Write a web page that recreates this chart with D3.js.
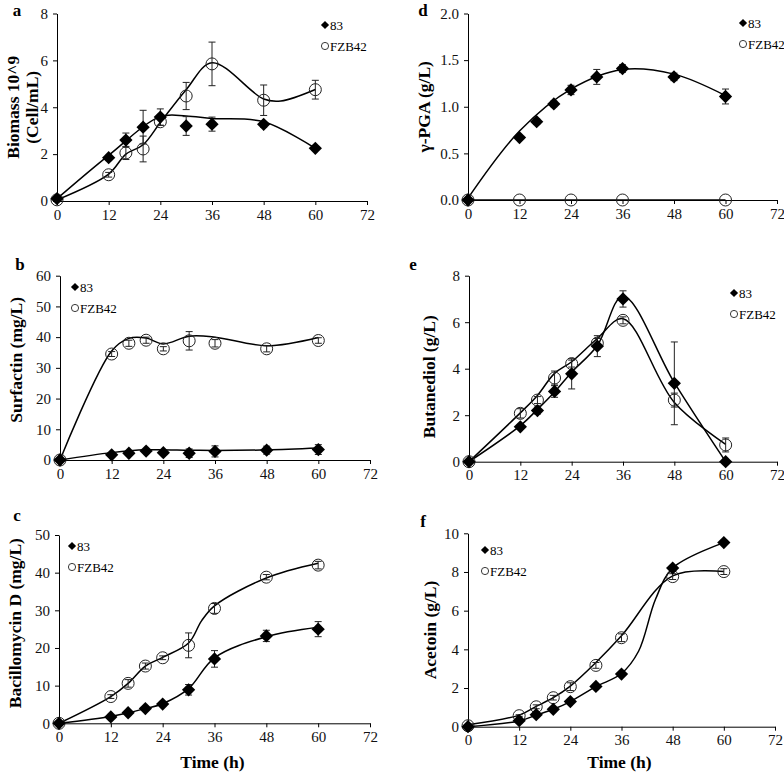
<!DOCTYPE html>
<html><head><meta charset="utf-8">
<script src="https://cdn.jsdelivr.net/npm/d3@7"></script>
<style>body{margin:0;background:#fff}svg{display:block}text{font-family:"Liberation Serif","Times New Roman",serif}</style>
</head><body>
<svg id="c" width="784" height="772"></svg>
<script>
// ---------------- data ----------------
const timeH = [0, 12, 16, 20, 24, 30, 36, 48, 60];
const xTickValues = [0, 12, 24, 36, 48, 60, 72];
const seriesNames = ["83", "FZB42"];

// a: Biomass
const biomass83 = [0.1, 1.85, 2.6, 3.15, 3.58, 3.2, 3.28, 3.27, 2.25];
const biomass83Err = [0, 0, 0.3, 0.72, 0.35, 0.4, 0.3, 0.12, 0];
const biomassFZB = [0.05, 1.12, 2.05, 2.22, 3.38, 4.48, 5.85, 4.3, 4.75];
const biomassFZBErr = [0, 0.1, 0.28, 0.55, 0.15, 0.58, 0.93, 0.65, 0.4];
const biomass83TrendX = [0, 12, 24, 30, 36, 48, 60];
const biomass83TrendY = [0.1, 1.95, 3.6, 3.63, 3.52, 3.38, 2.25];
const biomassFZBTrendX = [0, 12, 16, 20, 24, 30, 36, 48, 52, 60];
const biomassFZBTrendY = [0.05, 1.15, 2.0, 2.4, 3.35, 4.75, 5.9, 4.35, 4.27, 4.76];

// b: Surfactin
const surf83 = [0, 1.7, 2.2, 2.9, 2.4, 2.2, 2.8, 3.2, 3.4];
const surf83Err = [0, 0.5, 0.5, 0.5, 0.6, 1.4, 1.8, 1.3, 1.6];
const surfFZB = [0, 34.5, 38, 39, 36.2, 38.8, 38, 36.2, 38.9];
const surfFZBErr = [0, 0.8, 1, 1, 0.7, 3, 1.2, 1, 0.9];
const surf83TrendX = [0, 12, 20, 30, 36, 48, 60];
const surf83TrendY = [0, 2.4, 3.3, 3.2, 3.1, 3.3, 3.9];
const surfFZBTrendX = [0, 12, 16, 20, 24, 30, 36, 48, 60];
const surfFZBTrendY = [0, 35.5, 39.6, 39.7, 37.8, 40.3, 40, 37.2, 39.9];

// c: Bacillomycin D
const bac83 = [0, 1.7, 2.8, 3.9, 5.1, 8.9, 17.1, 23.2, 25];
const bac83Err = [0, 0.3, 0.4, 0.4, 0.5, 1.4, 2.2, 1.5, 2];
const bacFZB = [0, 7.1, 10.6, 15.2, 17.4, 20.7, 30.5, 38.8, 42];
const bacFZBErr = [0, 0.5, 1, 0.8, 0.5, 3.3, 1.3, 0.7, 1];
const bac83TrendX = [0, 12, 16, 20, 24, 30, 36, 48, 60];
const bac83TrendY = [0, 1.8, 2.8, 3.9, 5.2, 9.2, 17.4, 23, 25.5];
const bacFZBTrendX = [0, 12, 16, 20, 24, 30, 33, 36, 48, 60];
const bacFZBTrendY = [0, 7.1, 10.6, 15.2, 17.5, 21.3, 27.2, 31.2, 38.6, 42.5];

// d: gamma-PGA
const pgaTimeFZB = [0, 12, 24, 36, 60];
const pga83 = [0, 0.67, 0.84, 1.03, 1.18, 1.32, 1.41, 1.32, 1.11];
const pga83Err = [0, 0.02, 0.03, 0.03, 0.05, 0.08, 0.04, 0.04, 0.08];
const pgaFZB = [0, 0, 0, 0, 0];
const pgaFZBErr = [0, 0, 0, 0, 0];
const pga83TrendX = [0, 12, 24, 36, 48, 60];
const pga83TrendY = [0.02, 0.74, 1.19, 1.4, 1.35, 1.12];
const pgaFZBTrendX = [0, 60];
const pgaFZBTrendY = [0, 0];

// e: Butanediol
const but83 = [0, 1.5, 2.2, 3.02, 3.78, 4.97, 7.0, 3.37, 0];
const but83Err = [0, 0.1, 0.15, 0.25, 0.65, 0.45, 0.35, 1.78, 0];
const butFZB = [0, 2.08, 2.65, 3.6, 4.22, 5.1, 6.08, 2.65, 0.72];
const butFZBErr = [0, 0.2, 0.15, 0.3, 0.15, 0.2, 0.15, 0.3, 0.3];
const but83TrendX = [0, 12, 16, 20, 24, 30, 36, 48, 60];
const but83TrendY = [0, 1.55, 2.25, 3.0, 3.85, 5.0, 7.12, 3.4, 0];
const butFZBTrendX = [0, 12, 16, 20, 24, 30, 36, 48, 60];
const butFZBTrendY = [0, 2.1, 2.85, 3.8, 4.3, 5.3, 6.15, 2.55, 0.75];

// f: Acetoin
const ace83 = [0, 0.31, 0.62, 0.9, 1.3, 2.08, 2.72, 8.2, 9.52];
const ace83Err = [0, 0.03, 0.04, 0.05, 0.05, 0.06, 0.08, 0.1, 0.05];
const aceFZB = [0.05, 0.57, 1.03, 1.5, 2.07, 3.17, 4.6, 7.76, 8.02];
const aceFZBErr = [0, 0.05, 0.1, 0.12, 0.2, 0.15, 0.2, 0.15, 0.15];
const ace83TrendX = [0, 12, 16, 20, 24, 30, 36, 40, 44, 48, 60];
const ace83TrendY = [0, 0.3, 0.6, 0.9, 1.3, 2.07, 2.75, 3.9, 6.6, 8.2, 9.52];
const aceFZBTrendX = [0, 12, 16, 20, 24, 30, 36, 48, 60];
const aceFZBTrendY = [0.1, 0.6, 1.05, 1.5, 2.1, 3.32, 4.7, 7.8, 8.02];

// ---------------- layout ----------------
const panels = [
  {letter:"a", title:["Biomass 10^9","(Cell/mL)"], max:8, ticks:[0,2,4,6,8], fmt:d3.format("d"),
   x0:57, x1:367, yb:201, yt:13.5, letterPos:[17,16], titleX:[13,32], xTitle:false, cyOff:0,
   legend:[325,25], s:[[timeH,biomass83,biomass83Err,biomass83TrendX,biomass83TrendY],[timeH,biomassFZB,biomassFZBErr,biomassFZBTrendX,biomassFZBTrendY]]},
  {letter:"b", title:["Surfactin (mg/L)"], max:60, ticks:[0,10,20,30,40,50,60], fmt:d3.format("d"),
   x0:60, x1:370, yb:460, yt:275.7, letterPos:[20,270], titleX:[16], xTitle:false, cyOff:-8,
   legend:[75,287], s:[[timeH,surf83,surf83Err,surf83TrendX,surf83TrendY],[timeH,surfFZB,surfFZBErr,surfFZBTrendX,surfFZBTrendY]]},
  {letter:"c", title:["Bacillomycin D (mg/L)"], max:50, ticks:[0,10,20,30,40,50], fmt:d3.format("d"),
   x0:59, x1:370, yb:723.3, yt:535, letterPos:[17,521], titleX:[15], xTitle:true, cyOff:-6,
   legend:[72,546], s:[[timeH,bac83,bac83Err,bac83TrendX,bac83TrendY],[timeH,bacFZB,bacFZBErr,bacFZBTrendX,bacFZBTrendY]]},
  {letter:"d", title:["\u03B3-PGA (g/L)"], max:2, ticks:[0,0.5,1,1.5,2], fmt:d3.format(".1f"),
   x0:468, x1:777, yb:200, yt:13.5, letterPos:[423,16], titleX:[424], xTitle:false, cyOff:0,
   legend:[743,23], s:[[timeH,pga83,pga83Err,pga83TrendX,pga83TrendY],[pgaTimeFZB,pgaFZB,pgaFZBErr,pgaFZBTrendX,pgaFZBTrendY]]},
  {letter:"e", title:["Butanediol (g/L)"], max:8, ticks:[0,2,4,6,8], fmt:d3.format("d"),
   x0:469, x1:777, yb:461.7, yt:275.7, letterPos:[413,270], titleX:[429], xTitle:false, cyOff:8,
   legend:[734,293], s:[[timeH,but83,but83Err,but83TrendX,but83TrendY],[timeH,butFZB,butFZBErr,butFZBTrendX,butFZBTrendY]]},
  {letter:"f", title:["Acetoin (g/L)"], max:10, ticks:[0,2,4,6,8,10], fmt:d3.format("d"),
   x0:468, x1:775, yb:726.7, yt:533.3, letterPos:[423,527], titleX:[430], xTitle:true, cyOff:0,
   legend:[485,550], s:[[timeH,ace83,ace83Err,ace83TrendX,ace83TrendY],[timeH,aceFZB,aceFZBErr,aceFZBTrendX,aceFZBTrendY]]}
];

const svg = d3.select("#c");
const diamondBig = d3.symbol().type(d3.symbolSquare).size(88);
const diamondSmall = d3.symbol().type(d3.symbolSquare).size(34);

panels.forEach(p => {
  const x = d3.scaleLinear().domain([0,72]).range([p.x0,p.x1]);
  const y = d3.scaleLinear().domain([0,p.max]).range([p.yb,p.yt]);
  const g = svg.append("g");

  // axes
  const xa = g.append("g").attr("transform",`translate(0,${p.yb})`)
    .call(d3.axisBottom(x).tickValues(xTickValues).tickSize(4).tickSizeOuter(0).tickPadding(4));
  const ya = g.append("g").attr("transform",`translate(${p.x0},0)`)
    .call(d3.axisLeft(y).tickValues(p.ticks).tickFormat(p.fmt).tickSize(4).tickSizeOuter(0).tickPadding(5));
  [xa,ya].forEach(a=>{
    a.attr("font-family",null);
    a.selectAll("path,line").attr("stroke","#000").attr("stroke-width",1);
    a.selectAll("text").attr("font-size",15).attr("fill","#111").attr("font-family","Liberation Serif");
  });

  // titles
  const cy = (p.yb+p.yt)/2 + p.cyOff;
  p.title.forEach((t,i)=>{
    g.append("text").attr("transform",`translate(${p.titleX[i]},${cy}) rotate(-90)`)
      .attr("text-anchor","middle").attr("dominant-baseline","central")
      .attr("font-size",17.5).attr("font-weight","bold").text(t);
  });
  g.append("text").attr("x",p.letterPos[0]).attr("y",p.letterPos[1]).attr("text-anchor","middle")
    .attr("font-size",17).attr("font-weight","bold").text(p.letter);
  if (p.xTitle) {
    g.append("text").attr("x",(p.x0+p.x1)/2 - 2).attr("y",768).attr("text-anchor","middle")
      .attr("font-size",17.5).attr("font-weight","bold").text("Time (h)");
  }

  const line = d3.line().x(d=>x(d[0])).y(d=>y(d[1])).curve(d3.curveCatmullRom.alpha(0.5));
  p.s.forEach((s,k)=>{
    const [tx,vals,errs,trX,trY] = s;
    g.append("path").datum(trX.map((v,i)=>[v,trY[i]])).attr("d",line)
      .attr("fill","none").attr("stroke","#000").attr("stroke-width",1.5);
  });
  p.s.forEach((s,k)=>{
    const [tx,vals,errs] = s;
    const eg = g.append("g").attr("stroke","#222").attr("stroke-width",1);
    tx.forEach((t,i)=>{
      if (!errs[i]) return;
      const cx = x(t), ya1 = y(vals[i]+errs[i]), ya0 = y(vals[i]-errs[i]);
      eg.append("line").attr("x1",cx).attr("x2",cx).attr("y1",ya1).attr("y2",ya0);
      eg.append("line").attr("x1",cx-3.5).attr("x2",cx+3.5).attr("y1",ya1).attr("y2",ya1);
      eg.append("line").attr("x1",cx-3.5).attr("x2",cx+3.5).attr("y1",ya0).attr("y2",ya0);
    });
  });
  // markers: FZB42 circles then 83 diamonds
  const [fx,fv] = p.s[1];
  g.append("g").selectAll("circle").data(fx.map((t,i)=>[t,fv[i]])).join("circle")
    .attr("cx",d=>x(d[0])).attr("cy",d=>y(d[1])).attr("r",6)
    .attr("fill","none").attr("stroke","#222").attr("stroke-width",1);
  const [dx,dv] = p.s[0];
  g.append("g").selectAll("path").data(dx.map((t,i)=>[t,dv[i]])).join("path")
    .attr("d",diamondBig).attr("transform",d=>`translate(${x(d[0])},${y(d[1])}) rotate(45)`)
    .attr("fill","#000");

  // legend
  const [lx,ly] = p.legend;
  const lg = g.append("g");
  lg.append("path").attr("d",diamondSmall).attr("transform",`translate(${lx},${ly}) rotate(45)`).attr("fill","#000");
  lg.append("text").attr("x",lx+5).attr("y",ly).attr("dominant-baseline","central").attr("font-size",13).text(seriesNames[0]);
  lg.append("circle").attr("cx",lx).attr("cy",ly+21).attr("r",3.6).attr("fill","none").attr("stroke","#222").attr("stroke-width",0.9);
  lg.append("text").attr("x",lx+5).attr("y",ly+21).attr("dominant-baseline","central").attr("font-size",13).text(seriesNames[1]);
});
</script>
</body></html>
